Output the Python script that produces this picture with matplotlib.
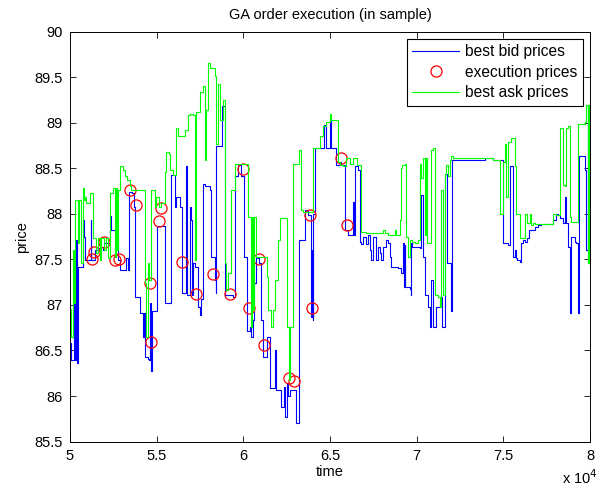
import matplotlib
matplotlib.use("Agg")
import matplotlib.pyplot as plt

plt.rcParams['font.family'] = ['Liberation Sans', 'DejaVu Sans']

# ---- data (time in seconds, price) ----
bid_t = [50000, 50077, 50231, 50270, 50366, 50423, 50462, 50750, 50808, 50885, 51193, 51231,
         51423, 51616, 51808, 51904, 51962, 52289, 52385, 52577, 52674, 52731, 52770, 52866,
         53250, 53346, 53404, 53596, 53673, 53731, 54020, 54212, 54270, 54347, 54500,
         54558, 54615, 54673, 54731, 55038, 55462, 55808, 56038, 56135, 56327, 56481, 56712,
         56769, 56904, 56962, 57058, 57096, 57192, 57385, 57481, 57538, 57673, 57769, 58058,
         58154, 58346, 58404, 58442, 58769, 58923, 58961,
         59115, 59403, 59538, 59692, 59884, 60038, 60230, 60365, 60461, 60557, 60615, 60750,
         60884, 61038, 61134, 61384, 61519, 61807, 61903, 62153, 62346, 62423, 62500, 62576,
         62672, 63057, 63192, 63538,
         63731, 63923, 63970, 64000, 64039, 64115, 64654, 64789, 64981, 65077, 65365, 65558,
         65654, 65885, 66039, 66327, 66365, 66423, 66615, 66712, 66808, 66904, 67096, 67192,
         67289, 67385, 67481, 67673, 67769, 67866, 67962, 68058, 68250,
         68346, 68442, 68538, 68923, 69077, 69211, 69250, 69308, 69346, 69596, 69654, 69692,
         69731, 70173, 70269, 70365, 70461, 70654, 70750, 70846, 70942, 71134, 71326, 71384,
         71461, 71654, 71769, 72000, 72038,
         73923, 74403, 74980, 75269, 75365, 75557, 75653, 75749, 75807, 75942, 76038, 76134,
         76230, 76384, 76461, 76807, 77000, 77192,
         77865, 78058, 78154, 78250, 78442, 78538, 78635, 78731, 78827, 78923, 79115, 79211,
         79308, 79365, 79692, 79788, 79884, 79904, 79923, 79942, 79961, 79981, 80000]
bid_p = [86.58, 86.40, 87.60, 86.40, 87.71, 86.36, 87.42, 87.93, 87.75, 87.49, 87.93, 87.49,
         87.60, 87.62, 87.64, 87.60, 87.68, 87.98, 87.82, 87.79, 87.60, 87.79, 87.49, 87.38,
         87.51, 87.38, 88.24, 88.23, 88.08, 87.09, 86.91, 86.65, 86.91, 86.43, 86.41,
         86.40, 87.02, 86.27, 86.93, 87.87, 87.02, 88.43, 88.08, 88.19, 88.08, 87.13, 88.52,
         87.11, 88.08, 87.93, 87.11, 87.46, 87.42, 86.98, 86.89, 87.07, 88.33, 88.30, 88.26,
         87.53, 87.27, 87.13, 88.74, 89.18, 87.24, 87.11,
         87.11, 87.09, 88.41, 88.54, 88.41, 87.53, 86.71, 86.76, 86.65, 86.84, 87.24, 87.51,
         87.46, 86.84, 86.43, 86.65, 86.09, 86.50, 86.07, 85.88, 86.10, 85.77, 86.14, 86.00,
         86.07, 85.70, 87.71, 88.04,
         87.99, 86.87, 87.60, 86.84, 88.00, 88.72, 88.97, 88.72, 89.03, 88.72, 88.54, 88.57,
         88.54, 87.82, 87.77, 88.13, 87.77, 88.52, 88.48, 87.69, 87.67, 87.75, 87.67, 87.77,
         87.60, 87.49, 87.75, 87.49, 87.64, 87.57, 87.49, 87.64, 87.71,
         87.68, 87.53, 87.42, 87.40, 87.35, 87.68, 87.20, 87.66, 87.20, 87.18, 87.11, 87.68,
         87.64, 87.62, 88.21, 87.53, 87.11, 86.98, 86.76, 87.27, 86.76, 86.98, 87.04, 87.09,
         86.76, 88.44, 87.46, 86.93, 88.59,
         88.61, 88.59, 87.68, 87.66, 88.52, 87.53, 87.60, 87.51, 87.49, 87.47, 87.68, 87.71,
         87.69, 87.73, 87.82, 87.86, 87.88, 87.89,
         87.93, 88.00, 87.99, 87.95, 87.90, 88.19, 87.90, 87.64, 86.91, 87.75, 87.69, 87.68,
         86.91, 88.63, 88.48, 87.60, 89.18, 87.46, 89.10, 87.46, 88.00, 87.44, 87.44]

ask_t = [50000, 50077, 50173, 50231, 50270, 50462, 50520, 50616, 50654, 50750, 50808, 50885,
         50943, 51135, 51327, 51520, 51616, 51712, 51808, 51962, 52097, 52193, 52289, 52481,
         52577, 52674, 52731, 52770, 52866, 53058, 53193, 53308, 53443, 53539, 54347, 54404,
         54500, 54558, 54654, 54885, 54981, 55115, 55269, 55462, 55558, 55692, 55769, 55942,
         56135, 56231, 56615, 56808, 56904, 57096, 57192, 57250, 57288, 57481, 57673, 57769,
         57865, 57961, 58058, 58346, 58442, 58538, 58635, 58827, 58961, 59019,
         59115, 59307, 59500, 60269, 60461, 60500, 60557, 60615, 60750, 61384, 61423, 61576,
         61711, 61807, 62000, 62096, 62538, 62634, 62672, 62865, 63192, 63345, 63442,
         63731, 64039, 64404, 64596, 64789, 64981, 65077, 65462, 65558, 65750, 65942, 66135,
         66327, 66577, 66769, 67096, 68058, 68154,
         68346, 68731, 68827, 69019, 69077, 69154, 69308, 69404, 69500, 69596, 69731, 69884,
         70077, 70173, 70269, 70365, 70461, 70557, 70615, 70807, 70942, 71038, 71230, 71326,
         71423, 71519, 71615, 71711, 71807, 71903, 72000, 72096,
         73923, 74403, 74788, 74980, 75076, 75172, 75269, 75461, 75653, 75749, 75942, 76269,
         76384, 76518, 76615, 76711, 76807,
         77865, 78058, 78250, 78442, 78538, 78635, 78731, 78827, 78923, 79308, 79692, 79788,
         79904, 79923, 79942, 79981, 80000]
ask_p = [86.96, 86.65, 87.60, 87.02, 88.15, 87.68, 88.15, 87.75, 87.46, 88.28, 88.15, 88.19,
         88.12, 88.23, 87.73, 87.57, 87.73, 87.49, 87.73, 87.60, 87.73, 87.51, 88.23, 88.28,
         87.53, 88.28, 87.60, 88.26, 88.52, 88.48, 88.41, 88.37, 88.30, 88.26, 87.24, 86.65,
         87.46, 87.27, 88.26, 88.08, 88.19, 88.08, 88.12, 88.46, 88.68, 88.66, 88.48, 88.43,
         88.94, 88.85, 88.92, 89.08, 89.10, 89.08, 87.49, 89.08, 89.12, 89.34, 89.40, 88.59,
         89.14, 89.65, 89.60, 89.51, 88.77, 89.43, 89.03, 89.25, 87.46, 87.16,
         87.35, 88.26, 88.55, 87.97, 86.76, 87.97, 86.94, 87.97, 87.53, 87.31, 86.94, 86.76,
         86.94, 87.27, 87.71, 87.95, 86.76, 86.18, 86.76, 88.55, 88.70, 88.04, 88.02,
         88.02, 88.72, 88.85, 88.96, 89.01, 89.10, 89.03, 88.57, 88.54, 88.52, 88.61, 88.55,
         88.61, 88.54, 87.80, 87.79, 87.82, 87.79,
         87.77, 87.82, 87.77, 87.93, 88.50, 88.54, 88.55, 87.75, 87.53, 87.71, 87.69, 87.68,
         87.71, 88.55, 88.39, 88.61, 87.77, 88.61, 87.68, 88.70, 88.72, 87.11, 87.09, 86.98,
         88.26, 87.11, 88.44, 88.54, 88.41, 88.59, 88.63, 88.61,
         88.61, 88.59, 88.00, 88.57, 88.77, 88.19, 88.79, 88.83, 88.52, 88.00, 87.73, 88.00,
         87.90, 88.00, 87.88, 87.90, 87.89,
         88.00, 87.99, 88.94, 88.32, 88.30, 88.94, 88.96, 87.97, 87.91, 88.99, 89.01, 89.19,
         87.46, 89.19, 87.80, 88.00, 88.00]

exec_t = [51270, 51385, 51943, 52616, 52846, 53462, 53827, 54596, 54654, 55115, 55231,
          56462, 57288, 58269, 59211, 59980, 60307, 60903, 61192, 62615, 62923, 63827,
          63962, 65654, 66000]
exec_p = [87.50, 87.58, 87.69, 87.49, 87.50, 88.26, 88.10, 87.24, 86.59, 87.92, 88.06,
          87.47, 87.12, 87.34, 87.12, 88.49, 86.97, 87.50, 86.56, 86.20, 86.17, 87.99,
          86.97, 88.61, 87.88]

x_ticks = [50000, 55000, 60000, 65000, 70000, 75000, 80000]
x_tick_labels = ['5', '5.5', '6', '6.5', '7', '7.5', '8']
y_ticks = [85.5, 86, 86.5, 87, 87.5, 88, 88.5, 89, 89.5, 90]
y_tick_labels = ['85.5', '86', '86.5', '87', '87.5', '88', '88.5', '89', '89.5', '90']

fig = plt.figure(figsize=(6.11, 4.90), dpi=100)
ax = fig.add_axes([70/611, 1 - 441.6/490, 520/611, 410/490])

ax.plot(bid_t, bid_p, color='#0000ff', lw=0.8, drawstyle='steps-post', label='best bid prices')
ax.plot(exec_t, exec_p, linestyle='none', marker='o', markersize=8, markerfacecolor='none',
        markeredgecolor='#ff0000', markeredgewidth=0.9, label='execution prices')
ax.plot(ask_t, ask_p, color='#00ff00', lw=0.8, drawstyle='steps-post', label='best ask prices')

ax.set_xlim(50000, 80000)
ax.set_ylim(85.5, 90)
ax.set_xticks(x_ticks)
ax.set_xticklabels(x_tick_labels)
ax.set_yticks(y_ticks)
ax.set_yticklabels(y_tick_labels)
ax.tick_params(direction='in', top=True, right=True, labelsize=10.5, length=4, width=0.6, pad=5)
for s in ax.spines.values():
    s.set_linewidth(0.7)

ax.set_title('GA order execution (in sample)', fontsize=10.5, pad=9)
ax.set_xlabel('time', fontsize=10.5, labelpad=2)
ax.set_ylabel('price', fontsize=10.5, labelpad=4)
fig.text(598/611, 0.006, 'x 10$^4$', ha='right', va='bottom', fontsize=10.5)

leg = ax.legend(loc='upper right', bbox_to_anchor=(0.9865, 0.982), fontsize=11.2,
                frameon=True, fancybox=False, edgecolor='black', framealpha=1,
                handlelength=3.0, handletextpad=0.4, borderpad=0.35, labelspacing=0.35,
                borderaxespad=0)
leg.get_frame().set_linewidth(0.8)

fig.savefig('out.png', dpi=100)
